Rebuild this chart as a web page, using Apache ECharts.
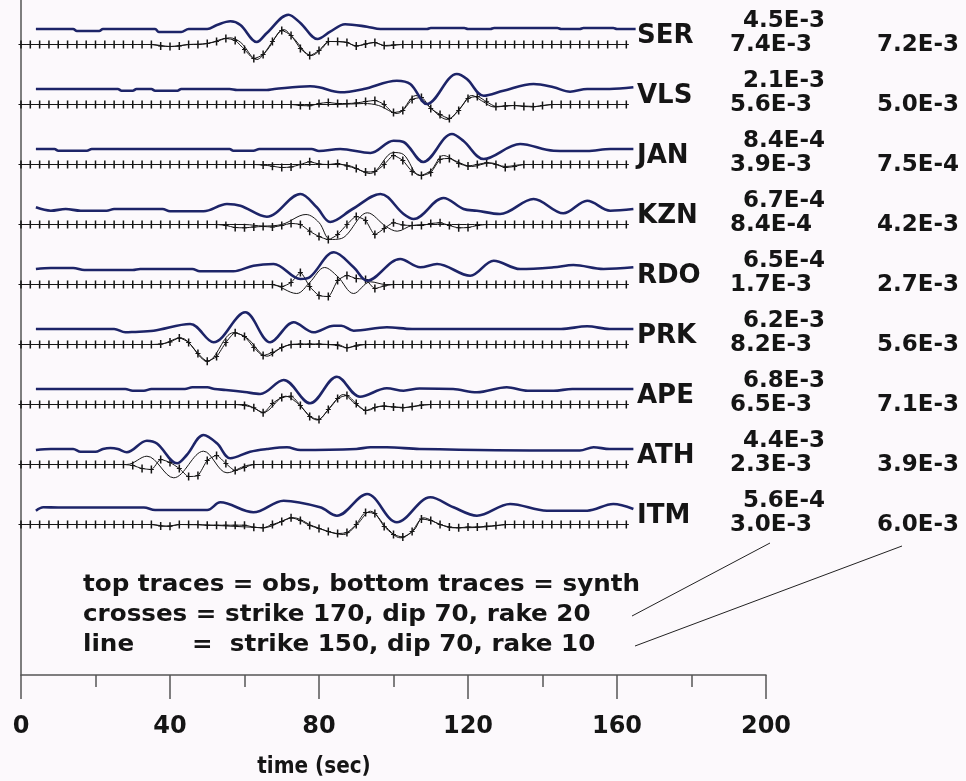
<!DOCTYPE html>
<html>
<head>
<meta charset="utf-8">
<script src="https://cdn.jsdelivr.net/npm/echarts@6/dist/echarts.min.js"></script>
<style>
  html, body { margin: 0; padding: 0; background: #fcf9fc; }
  #chart { width: 966px; height: 781px; }
</style>
</head>
<body>
<div id="chart"></div>
<script>
// Station order, top to bottom
const STATIONS = ['SER', 'VLS', 'JAN', 'KZN', 'RDO', 'PRK', 'APE', 'ATH', 'ITM'];

// Peak amplitudes printed next to each station
const AMP_OBS   = ['4.5E-3', '2.1E-3', '8.4E-4', '6.7E-4', '6.5E-4', '6.2E-3', '6.8E-3', '4.4E-3', '5.6E-4'];
const AMP_CROSS = ['7.4E-3', '5.6E-3', '3.9E-3', '8.4E-4', '1.7E-3', '8.2E-3', '6.5E-3', '2.3E-3', '3.0E-3'];
const AMP_LINE  = ['7.2E-3', '5.0E-3', '7.5E-4', '4.2E-3', '2.7E-3', '5.6E-3', '7.1E-3', '3.9E-3', '6.0E-3'];

// Time axis ticks (sec)
const TIME_TICKS_MAJOR = 40;
const TIME_TICKS_MINOR = 20;

// Observed traces: [time (s), normalised amplitude]
const OBS_SER = [[4,0],[14,0],[15,-2],[21,-2],[22,0],[36,0],[37,-3],[43,-3],[45,0],[50,0],[52.6,4],[56.2,7.7],[58.9,4],[63.3,-13],[66,-4],[71.8,14.3],[75,6],[79.6,-10],[83,-2.7],[87,4.7],[92.9,2.3],[96.5,0],[109,0],[110,1],[119,1],[120,0],[126,0],[127,1],[144,1],[145,0],[150,0],[151,1],[159,1],[160,0],[165,0]];
const OBS_VLS = [[4,0],[26,0],[27,-1.7],[30,-1.7],[31,0],[35,0],[36,-1.7],[42,-1.7],[43,0],[56,0],[58,-1],[66,-1],[68,0],[77.6,2.7],[80,1.7],[85.7,-3.3],[92,0],[100.9,8.3],[104.5,5],[109,-15],[117,15],[119.7,10],[124.2,-6.7],[129.5,-1.7],[137.6,5],[143,1.7],[147.4,-2.7],[152,0],[158,0],[164.4,1.7]];
const OBS_JAN = [[4,0],[9,0],[10,-1.7],[17.7,-1.7],[19,0],[56,0],[57,-1.7],[62.4,-1.7],[64,0],[78,0],[80,-2],[85.7,0],[93.8,-4],[100,8.3],[102.7,7],[108,-13],[115.7,15],[118.8,8],[124.2,-10],[134,5],[143,-1.7],[152,-2],[158.2,0],[164.4,0]];
const OBS_KZN = [[4,1.7],[8,-1.7],[12,0],[16,-1.7],[23,-1.7],[25,0],[38,0],[40,-2.3],[49,-2.3],[55.3,5],[58.9,3.3],[66,-7.7],[75,15],[79.4,1.7],[83,-13],[89,0],[96.5,15],[102.7,-5],[105.4,-10],[113.4,11],[118.8,0],[122.4,-1.7],[128.6,-5],[137.6,10],[145.6,-4.3],[152,8.3],[158.2,-1.7],[164.4,0]];
const OBS_RDO = [[4,0],[8,1],[14,1],[17,-1],[30,-1],[32,0],[46,0],[48,-2.3],[57,-2.3],[62.4,3.3],[67.8,5],[75,-10],[77.6,-8],[84,16.7],[89.3,1.7],[92.9,-11.7],[101.8,10],[107.2,1.7],[111.7,5],[120.6,-6.7],[126.9,8.3],[134,0],[143,1.7],[148.3,4],[156.4,0],[164.4,1.7]];
const OBS_PRK = [[4,0],[25,0],[28,-3.3],[30,-3],[35.6,-1.7],[45.4,5],[51.7,-13.3],[60.2,16.7],[66.9,-13.3],[73.2,6.7],[78.5,-3.3],[84,3.3],[86,3.3],[89.3,-1.7],[98.2,1.7],[105,0],[145,0],[152,2.7],[158,0],[164.4,0]];
const OBS_APE = [[4,0],[28,0],[30,-1.7],[33,-1.7],[35,0],[44,0],[46,1.7],[50,1.7],[52,0],[55,-1],[60,-3],[64.2,-5],[70.5,9],[77.6,-14.3],[84.8,12.3],[91,-7.7],[98.2,0.7],[102.7,-1.7],[107,0.5],[116,0],[122.4,-3.3],[130.4,1.7],[136,-1.7],[143,-1.7],[148,0],[164.4,0]];
const OBS_ATH = [[4,-1],[8,0],[14,0],[16,-2.7],[20,-2.7],[22,0],[24,1],[26,0],[28.4,-3.3],[33.8,8.3],[36.5,5.5],[41.9,-14.3],[44.5,-6],[49,14],[52.6,5.7],[56.2,-9.3],[61.5,-2.7],[66,0],[71.4,1.7],[75,-1],[90,0],[93.8,1.7],[98.2,1.7],[107,0],[145,-1.5],[150,-1.5],[153.7,1.7],[158,0],[164.4,0]];
const OBS_ITM = [[4,-1.7],[6,1.7],[10,1.5],[33,1.5],[36,-1],[50,-1],[53.5,6.7],[62.4,-3.3],[70.5,8.3],[80.3,1.7],[84.8,-6.7],[92.9,15],[100.9,-13.3],[109.9,11.7],[116.1,1.7],[122.4,-6.7],[131.3,5],[141.2,-1.7],[152,-1.7],[159,5],[164.4,0]];

// Synthetic, strike 150 / dip 70 / rake 10 (plain line): [time (s), amplitude]
const LINE_SER = [[0,0],[35,0],[40,-2],[45,0],[50,1],[56,6.7],[59,2],[63.3,-15],[66,-6],[70.5,15],[73,7],[78,-11],[80.5,-5],[83,3],[87,2.5],[90,-1.5],[94.7,2],[98,-1.5],[102,0],[163,0]];
const LINE_VLS = [[0,0],[85,0],[92,1],[96,-1],[101,-9],[106,9],[109,0],[114.5,-15],[118,-3],[121,9],[124,3],[127,-2.5],[132,-1],[138,-2],[143,0],[163,0]];
const LINE_JAN = [[0,0],[85,0],[88,-1],[93.8,-9],[100,12],[102.7,10],[107,-11],[110,-6],[113.4,9],[117,3],[121,-2],[126,1.7],[130,-2],[135,0],[163,0]];
const LINE_KZN = [[0,0],[60,0],[65,-1.5],[70,0],[76.5,10],[80,2],[83,-15],[86,-14],[93,11.7],[98,-2],[101,-6.7],[105,-1],[110,0],[163,0]];
const LINE_RDO = [[0,0],[67,0],[74,-9],[77.5,2],[81.5,17],[85,8],[89.3,-9],[93.8,2.7],[98,0],[163,0]];
const LINE_PRK = [[0,0],[37,0],[42.8,6.7],[50,-16.7],[57,11.7],[60.6,6.7],[66,-11.7],[70,-3],[73,0],[85,0],[87.5,-3.3],[91,0],[163,0]];
const LINE_APE = [[0,0],[60,0],[62.4,-3.3],[65,-8],[71,8.3],[74,2],[79.5,-15.5],[83,-3],[86.6,10],[89.3,2],[92.9,-6],[96.5,-1.7],[103,-3],[110,0],[163,0]];
const LINE_ATH = [[0,0],[28.4,0],[33.8,8.3],[41,-13.3],[49,13.3],[55.3,-8.3],[60.6,-1],[64,0],[163,0]];
const LINE_ITM = [[0,0],[35,0],[39,-1.7],[43,0],[62,-2.7],[65,-3.3],[73.2,6.7],[78.5,-1.7],[86.6,-10],[90.2,0],[93.8,13.3],[98.2,-3.3],[101.8,-13.3],[105.4,-6],[108,6.7],[112.6,0],[116,-3.3],[122.4,-3],[127,-1.5],[131,0],[163,0]];

// Synthetic, strike 170 / dip 70 / rake 20 (crosses): one sample every CROSS_DT seconds from t = 0
const CROSS_DT = 2.5;
const CROSS_SER = [0,0,0,0,0,0,0,0,0,0,0,0,0,0,0,-1.5,-2,-1.5,0,0,1,3,6,4,-5,-14,-10,3,14,9,-4,-11,-6,3,3,2,-1.5,0.5,2,-1,-0.5,0,0,0,0,0,0,0,0,0,0,0,0,0,0,0,0,0,0,0,0,0,0,0,0,0];
const CROSS_VLS = [0,0,0,0,0,0,0,0,0,0,0,0,0,0,0,0,0,0,0,0,0,0,0,0,0,0,0,0,0,0,-1,-1.3,1,2,1,1,1.5,3,4,0,-8,-6,5,7,-4,-10,-14,-6,6,8,2.7,-2,-1.5,-1,-2,-2.3,-1,0,0,0,0,0,0,0,0,0];
const CROSS_JAN = [0,0,0,0,0,0,0,0,0,0,0,0,0,0,0,0,0,0,0,0,0,0,0,0,0,0,-0.5,-1.7,-3,-2.5,0,2.7,0.5,0,1,-1.5,-4,-7.5,-7,0,9,4,-7,-11,-8,5,6,1,-1.5,0,1.7,0,-3,-2,0,0,0,0,0,0,0,0,0,0,0,0];
const CROSS_KZN = [0,0,0,0,0,0,0,0,0,0,0,0,0,0,0,0,0,0,0,0,0,0,-1,-3,-3.3,-2.5,-2,-2.5,-1,1,0,-6.7,-12,-15,-10,0,8,4,-10,-4,1.7,-0.5,-1,-1,1,1.7,-1,-3.3,-3,-1,0,0,0,0,0,0,0,0,0,0,0,0,0,0,0,0];
const CROSS_RDO = [0,0,0,0,0,0,0,0,0,0,0,0,0,0,0,0,0,0,0,0,0,0,0,0,0,0,0,0,-2,2,12,-2,-11,-12,4,9,6,5,-4,-1.5,0,0,0,0,0,0,0,0,0,0,0,0,0,0,0,0,0,0,0,0,0,0,0,0,0,0];
const CROSS_PRK = [0,0,0,0,0,0,0,0,0,0,0,0,0,0,0,0.5,2.5,6.5,2,-9,-16.7,-12,2,11.7,8,-3,-11,-8,-3,0,0.5,0.5,0.5,0,-1,-3.3,-1.5,0,0,0,0,0,0,0,0,0,0,0,0,0,0,0,0,0,0,0,0,0,0,0,0,0,0,0,0,0];
const CROSS_APE = [0,0,0,0,0,0,0,0,0,0,0,0,0,0,0,0,0,0,0,0,0,0,0,0,-1,-3.3,-8.3,1,7,8.3,-1,-12,-15,-5,6,9,1,-6,-3,-1.5,-2.5,-3.3,-2,-0.5,0,0,0,0,0,0,0,0,0,0,0,0,0,0,0,0,0,0,0,0,0,0];
const CROSS_ATH = [0,0,0,0,0,0,0,0,0,0,0,0,-1,-4,-5,5,2,-4,-12,-11,4,9,1,-6,-3,0,0,0,0,0,0,0,0,0,0,0,0,0,0,0,0,0,0,0,0,0,0,0,0,0,0,0,0,0,0,0,0,0,0,0,0,0,0,0,0,0];
const CROSS_ITM = [0,0,0,0,0,0,0,0,0,0,0,0,0,0,0,-1.5,-1.7,0,0,0,-0.7,-0.7,-0.7,-0.7,-0.7,-2.7,-3.3,0,3,6.7,4,-1,-4,-7,-9,-8,0,12,11,-2,-10,-12.5,-7,5.5,4,0,-2.5,-3.3,-2.5,-2.5,-1.7,-1,0,0,0,0,0,0,0,0,0,0,0,0,0,0];

const OBS   = [OBS_SER, OBS_VLS, OBS_JAN, OBS_KZN, OBS_RDO, OBS_PRK, OBS_APE, OBS_ATH, OBS_ITM];
const LINE  = [LINE_SER, LINE_VLS, LINE_JAN, LINE_KZN, LINE_RDO, LINE_PRK, LINE_APE, LINE_ATH, LINE_ITM];
const CROSS = [CROSS_SER, CROSS_VLS, CROSS_JAN, CROSS_KZN, CROSS_RDO, CROSS_PRK, CROSS_APE, CROSS_ATH, CROSS_ITM];

// ---- layout (pixels) ----
const PLOT_HEIGHT = 675;          // y axis runs 0..PLOT_HEIGHT, measured down from the top
const ROW_STEP = 60;              // vertical spacing between stations
const OBS_ROW0 = 29;              // baseline of the first observed trace
const SYN_ROW0 = 44.5;            // baseline of the first synthetic pair
const LABEL_ROW0 = 36;            // station name centre
const FONT = '"DejaVu Sans", sans-serif';
const INK = '#151515';
const AXIS_INK = '#555';
const OBS_COLOR = '#1d2468';
const PLUS = 'path://M1.75,0h1.5v8h-1.5zM0,3.5h5v1h-5z';

const series = [];
STATIONS.forEach(function (name, k) {
  const obsBase = OBS_ROW0 + k * ROW_STEP;
  const synBase = SYN_ROW0 + k * ROW_STEP;
  series.push({
    name: name + ' obs', type: 'line', xAxisIndex: 0, yAxisIndex: 0,
    data: OBS[k].map(function (p) { return [p[0], obsBase - p[1]]; }),
    smooth: 0.35, symbol: 'none', z: 4,
    lineStyle: { color: OBS_COLOR, width: 2.6 }
  });
  series.push({
    name: name + ' line', type: 'line', xAxisIndex: 0, yAxisIndex: 0,
    data: LINE[k].map(function (p) { return [p[0], synBase - p[1]]; }),
    smooth: 0.35, symbol: 'none', z: 3,
    lineStyle: { color: INK, width: 1 }
  });
  series.push({
    name: name + ' crosses', type: 'line', xAxisIndex: 0, yAxisIndex: 0,
    data: CROSS[k].map(function (a, i) { return [i * CROSS_DT, synBase - a]; }),
    smooth: 0.2, symbol: PLUS, symbolSize: [5, 8], showAllSymbol: true, z: 3,
    lineStyle: { color: INK, width: 1 },
    itemStyle: { color: INK }
  });
});

// Station names and amplitude annotations
const graphics = [];
STATIONS.forEach(function (name, k) {
  const yc = LABEL_ROW0 + k * ROW_STEP;
  graphics.push({ type: 'text', x: 637, y: yc, style: { text: name, font: 'bold 26px ' + FONT, fill: INK, textAlign: 'left', textVerticalAlign: 'middle' } });
  graphics.push({ type: 'text', x: 743, y: yc - 15, style: { text: AMP_OBS[k], font: 'bold 23px ' + FONT, fill: INK, textAlign: 'left', textVerticalAlign: 'middle' } });
  graphics.push({ type: 'text', x: 730, y: yc + 9, style: { text: AMP_CROSS[k], font: 'bold 23px ' + FONT, fill: INK, textAlign: 'left', textVerticalAlign: 'middle' } });
  graphics.push({ type: 'text', x: 877, y: yc + 9, style: { text: AMP_LINE[k], font: 'bold 23px ' + FONT, fill: INK, textAlign: 'left', textVerticalAlign: 'middle' } });
});

// Key text
const KEY_LINES = [
  { x: 83,  y: 585, text: 'top traces = obs, bottom traces = synth' },
  { x: 83,  y: 615, text: 'crosses = strike 170, dip 70, rake 20' },
  { x: 83,  y: 645, text: 'line' },
  { x: 192, y: 645, text: '=  strike 150, dip 70, rake 10' }
];
KEY_LINES.forEach(function (t) {
  graphics.push({ type: 'text', x: t.x, y: t.y, scaleX: 1.07, style: { text: t.text, font: 'bold 23px ' + FONT, fill: INK, textAlign: 'left', textVerticalAlign: 'middle' } });
});
// Leaders from the key to the amplitude columns
graphics.push({ type: 'line', shape: { x1: 632, y1: 616, x2: 770, y2: 543 }, style: { stroke: '#222', lineWidth: 1 } });
graphics.push({ type: 'line', shape: { x1: 635, y1: 646, x2: 902, y2: 546 }, style: { stroke: '#222', lineWidth: 1 } });
// Axis title
graphics.push({ type: 'text', x: 314, y: 767, scaleX: 0.87, style: { text: 'time (sec)', font: 'bold 23px ' + FONT, fill: INK, textAlign: 'center', textVerticalAlign: 'middle' } });

// Two identical grids: the first carries the traces, the long ticks and the labels,
// the second only adds the short ticks every 20 s.
const GRID_BOX = { left: 21, right: 200, top: 0, bottom: 781 - PLOT_HEIGHT };

const chart = echarts.init(document.getElementById('chart'), null, { renderer: 'canvas' });
chart.setOption({
  backgroundColor: '#fcf9fc',
  animation: false,
  grid: [Object.assign({}, GRID_BOX), Object.assign({}, GRID_BOX)],
  xAxis: [
    {
      gridIndex: 0, type: 'value', min: 0, max: 200, interval: TIME_TICKS_MAJOR, position: 'bottom',
      axisLine: { show: true, onZero: false, lineStyle: { color: AXIS_INK, width: 1.5 } },
      axisTick: { show: true, length: 24, lineStyle: { color: AXIS_INK, width: 1.5 } },
      axisLabel: { show: true, margin: 40, fontFamily: FONT, fontWeight: 'bold', fontSize: 24, color: INK },
      splitLine: { show: false }
    },
    {
      gridIndex: 1, type: 'value', min: 0, max: 200, interval: TIME_TICKS_MINOR, position: 'bottom',
      axisLine: { show: false, onZero: false },
      axisTick: { show: true, length: 12, lineStyle: { color: AXIS_INK, width: 1.5 } },
      axisLabel: { show: false },
      splitLine: { show: false }
    }
  ],
  yAxis: [
    {
      gridIndex: 0, type: 'value', min: 0, max: PLOT_HEIGHT, inverse: true,
      axisLine: { show: true, onZero: false, lineStyle: { color: AXIS_INK, width: 1.5 } },
      axisTick: { show: false }, axisLabel: { show: false }, splitLine: { show: false }
    },
    {
      gridIndex: 1, type: 'value', min: 0, max: PLOT_HEIGHT, inverse: true, show: false
    }
  ],
  series: series,
  graphic: graphics
});
</script>
</body>
</html>
